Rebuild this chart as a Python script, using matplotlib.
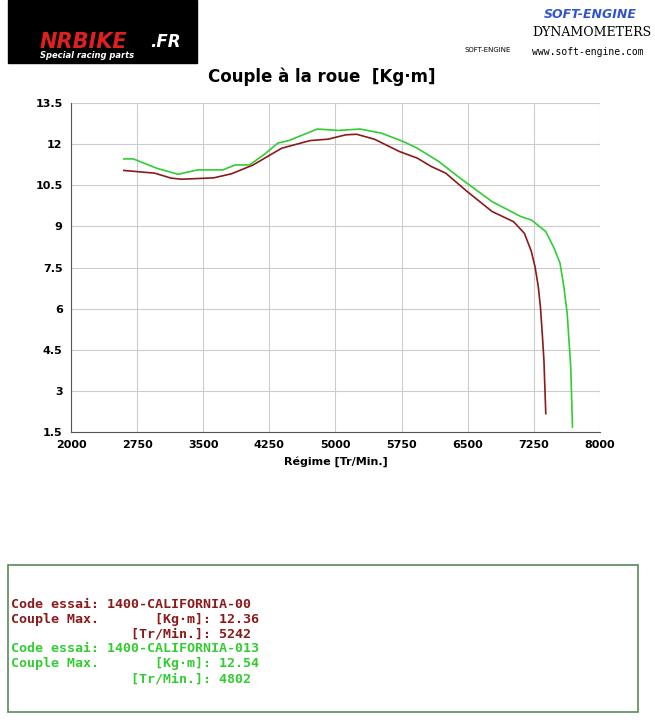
import matplotlib
matplotlib.use("Agg")
import matplotlib.pyplot as plt
from matplotlib.patches import Rectangle

rpm_red = [2599, 2951, 3134, 3255, 3619, 3822, 4065, 4389, 4713, 4915, 5117, 5239, 5441, 5725, 5927, 6089, 6251, 6494, 6777, 7020, 7142, 7220, 7263, 7300, 7324, 7345, 7364, 7385]
tq_red = [11.04, 10.94, 10.76, 10.72, 10.77, 10.92, 11.24, 11.85, 12.13, 12.18, 12.34, 12.36, 12.18, 11.73, 11.49, 11.18, 10.94, 10.27, 9.54, 9.17, 8.75, 8.1, 7.53, 6.8, 6.07, 5.1, 4.12, 2.17]
rpm_green = [2599, 2708, 2972, 3215, 3437, 3721, 3862, 4024, 4186, 4348, 4470, 4794, 5036, 5279, 5522, 5765, 5927, 6170, 6413, 6777, 7101, 7223, 7385, 7480, 7547, 7590, 7628, 7668, 7688]
tq_green = [11.46, 11.46, 11.12, 10.90, 11.06, 11.06, 11.24, 11.24, 11.61, 12.04, 12.13, 12.55, 12.50, 12.55, 12.40, 12.10, 11.85, 11.37, 10.76, 9.90, 9.36, 9.23, 8.81, 8.2, 7.65, 6.8, 5.82, 3.88, 1.68]
xticks = [2000, 2750, 3500, 4250, 5000, 5750, 6500, 7250, 8000]
yticks = [1.5, 3, 4.5, 6, 7.5, 9, 10.5, 12, 13.5]
ylabels = ["1.5", "3", "4.5", "6", "7.5", "9", "10.5", "12", "13.5"]

RED = "#8b1a1a"
GREEN = "#33cc33"

fig = plt.figure(figsize=(6.55, 7.2), dpi=100)
ax = fig.add_axes([71/655, 1-432/720, 529/655, 329/720])
ax.plot(rpm_red, tq_red, color=RED, lw=1.2)
ax.plot(rpm_green, tq_green, color=GREEN, lw=1.2)
ax.set_xlim(2000, 8000)
ax.set_ylim(1.5, 13.5)
ax.set_xticks(xticks)
ax.set_yticks(yticks)
ax.set_yticklabels(ylabels)
ax.tick_params(labelsize=8, length=0, pad=6)
for t in ax.get_xticklabels() + ax.get_yticklabels():
    t.set_fontweight("bold")
ax.grid(True, color="#cccccc", lw=0.8)
for s in ["top", "right"]:
    ax.spines[s].set_visible(False)
ax.spines["left"].set_color("#555555")
ax.spines["bottom"].set_color("#555555")
ax.set_xlabel("Régime [Tr/Min.]", fontsize=8, fontweight="bold")
fig.text(322/655, 1-77/720, "Couple à la roue  [Kg·m]", ha="center", va="center", fontsize=12, fontweight="bold")

# logos approximated
fig.patches.append(Rectangle((8/655, 1-63/720), 189/655, 63/720, transform=fig.transFigure, color="black"))
fig.text(40/655, 1-42/720, "NRBIKE", color="#e02020", fontsize=15, fontweight="bold", style="italic", va="center")
fig.text(150/655, 1-42/720, ".FR", color="white", fontsize=12, fontweight="bold", style="italic", va="center")
fig.text(40/655, 1-56/720, "Special racing parts", color="white", fontsize=6, fontweight="bold", style="italic", va="center")
fig.text(590/655, 1-14/720, "SOFT-ENGINE", color="#3355cc", fontsize=9, fontweight="bold", style="italic", ha="center", va="center")
fig.text(592/655, 1-33/720, "DYNAMOMETERS", color="black", fontsize=9, family="DejaVu Serif", ha="center", va="center")
fig.text(588/655, 1-52/720, "www.soft-engine.com", color="black", fontsize=7, family="DejaVu Sans Mono", ha="center", va="center")
fig.text(488/655, 1-50/720, "SOFT-ENGINE", color="black", fontsize=5, ha="center", va="center")

# info box
fig.patches.append(Rectangle((8/655, 1-712/720), 630/655, 147/720, transform=fig.transFigure, fill=False, ec="#5a8a5a", lw=1.2))
lines = [
    ("Code essai: 1400-CALIFORNIA-00", RED, 604),
    ("Couple Max.       [Kg·m]: 12.36", RED, 619),
    ("               [Tr/Min.]: 5242", RED, 634),
    ("Code essai: 1400-CALIFORNIA-013", GREEN, 649),
    ("Couple Max.       [Kg·m]: 12.54", GREEN, 664),
    ("               [Tr/Min.]: 4802", GREEN, 679),
]
for txt, c, y in lines:
    fig.text(11/655, 1-y/720, txt, color=c, fontsize=9.6, family=["DejaVu Sans Mono"], fontweight="bold", va="center")

fig.savefig("out.png", dpi=100)
